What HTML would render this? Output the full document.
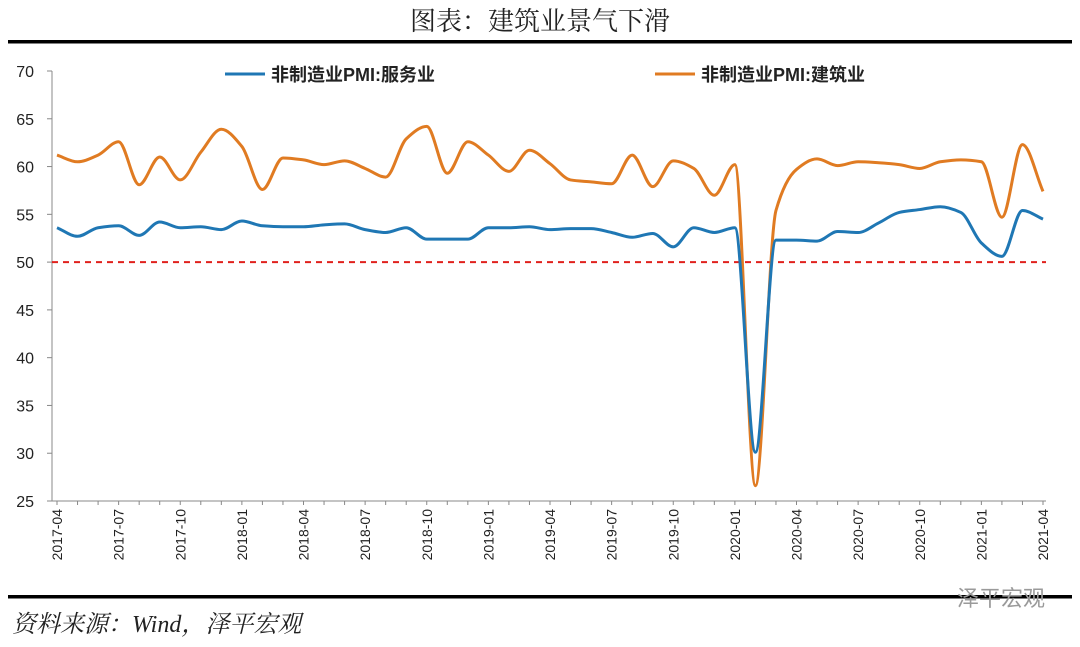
<!DOCTYPE html>
<html><head><meta charset="utf-8"><style>
body{margin:0;background:#fff;width:1080px;height:642px;overflow:hidden}
svg text{font-family:"Liberation Sans","Noto Sans CJK SC",sans-serif}
</style></head><body>
<svg width="1080" height="642" xmlns="http://www.w3.org/2000/svg">
<text x="540" y="30" text-anchor="middle" font-size="26" style="font-family:'Liberation Serif','Noto Serif CJK SC',serif" fill="#222">图表：建筑业景气下滑</text>
<rect x="8" y="40" width="1064" height="3.5" fill="#000"/>
<rect x="8" y="595" width="1064" height="3.5" fill="#000"/>
<text x="12" y="632" font-size="24" font-style="italic" style="font-family:'Liberation Serif','Noto Serif CJK SC',serif" fill="#222">资料来源：Wind，泽平宏观</text>
<text x="1045" y="606" text-anchor="end" font-size="22" fill="#9a9a9a">泽平宏观</text>
<g id="axes"></g>
<g id="series"></g>
<g>
<line x1="225" y1="74" x2="265" y2="74" stroke="#1f77b4" stroke-width="3"/>
<text x="271" y="81" font-size="18" font-weight="bold" fill="#222">非制造业PMI:服务业</text>
<line x1="655" y1="74" x2="695" y2="74" stroke="#e07b22" stroke-width="3"/>
<text x="701" y="81" font-size="18" font-weight="bold" fill="#222">非制造业PMI:建筑业</text>
</g>
</svg>
<script>
const yTicks=[25,30,35,40,45,50,55,60,65,70];
const startYear=2017,startMonth=4,nMonths=49;
const services=[53.6,52.7,53.6,53.8,52.8,54.2,53.6,53.7,53.4,54.3,53.8,53.7,53.7,53.9,54.0,53.4,53.1,53.6,52.4,52.4,52.4,53.6,53.6,53.7,53.4,53.5,53.5,53.1,52.6,53.0,51.6,53.6,53.1,53.6,30.1,52.3,52.3,52.2,53.2,53.1,54.1,55.2,55.5,55.8,55.2,52.0,50.6,55.4,54.5];
const construction=[61.2,60.5,61.2,62.6,58.1,61.0,58.6,61.5,63.9,62.1,57.6,60.9,60.7,60.2,60.6,59.8,58.9,62.9,64.2,59.3,62.6,61.2,59.5,61.7,60.3,58.6,58.4,58.2,61.2,57.9,60.6,59.8,57.0,60.2,26.6,55.4,59.7,60.8,60.1,60.5,60.4,60.2,59.8,60.5,60.7,60.5,54.7,62.3,57.4];
const X0=57,X1=1043,Y70=71,Y25=501;
const xs=i=>X0+(X1-X0)*i/(nMonths-1);
const ys=v=>Y70+(70-v)*(Y25-Y70)/45;
const NS="http://www.w3.org/2000/svg";
const ax=document.getElementById('axes'),sr=document.getElementById('series');
function mk(t,a,p){const e=document.createElementNS(NS,t);for(const k in a)e.setAttribute(k,a[k]);p.appendChild(e);return e;}
let yl=mk('line',{x1:52,y1:Y70,x2:52,y2:Y25,stroke:'#888','stroke-width':1},ax);


let xl=mk('line',{x1:52,y1:Y25,x2:1046,y2:Y25,stroke:'#888','stroke-width':1},ax);


yTicks.forEach(v=>{
 mk('line',{x1:47,y1:ys(v),x2:52,y2:ys(v),stroke:'#888'},ax);
 const t=mk('text',{x:34,y:ys(v)+6,'text-anchor':'end','font-size':16,fill:'#222'},ax);t.textContent=v;
 
 
});
for(let i=0;i<nMonths;i++){
 mk('line',{x1:xs(i),y1:Y25,x2:xs(i),y2:Y25+4,stroke:'#888'},ax);
 if(i%3===0){
  const m=(startMonth-1+i)%12+1,y=startYear+Math.floor((startMonth-1+i)/12);
  const lab=y+'-'+String(m).padStart(2,'0');
  const t=mk('text',{x:0,y:0,'text-anchor':'end','font-size':14,fill:'#222',transform:`translate(${xs(i)+5},${Y25+8}) rotate(-90)`},ax);t.textContent=lab;
  
  
 }
}
let ref=mk('line',{x1:52,y1:ys(50),x2:1046,y2:ys(50),stroke:'#e0201c','stroke-width':2,'stroke-dasharray':'6,5'},ax);


function path(vals){
 const p=vals.map((v,i)=>[xs(i),ys(v)]),n=p.length,h=p[1][0]-p[0][0];
 const d=[];for(let i=0;i<n-1;i++)d.push((p[i+1][1]-p[i][1])/h);
 const m=[d[0]];
 for(let i=1;i<n-1;i++){m.push(d[i-1]*d[i]<=0?0:2/(1/d[i-1]+1/d[i]));}
 m.push(d[n-2]);
 let s=`M${p[0][0]},${p[0][1]}`;
 for(let i=0;i<n-1;i++){
  s+=` C${p[i][0]+h/3},${p[i][1]+m[i]*h/3} ${p[i+1][0]-h/3},${p[i+1][1]-m[i+1]*h/3} ${p[i+1][0]},${p[i+1][1]}`;}
 return s;}
let s1=mk('path',{d:path(construction),fill:'none',stroke:'#e07b22','stroke-width':3},sr);


let s2=mk('path',{d:path(services),fill:'none',stroke:'#1f77b4','stroke-width':3},sr);


</script>
</body></html>
